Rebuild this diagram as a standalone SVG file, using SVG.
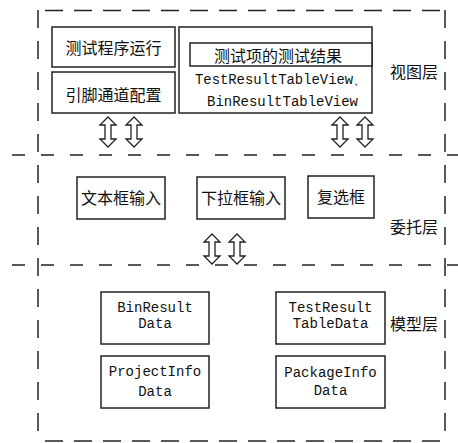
<svg xmlns="http://www.w3.org/2000/svg" width="458" height="443" viewBox="0 0 458 443">
<style>
.bx{fill:#fff;stroke:#222;stroke-width:1.5}
.cn{font-family:"Noto Sans CJK SC","Noto Sans",sans-serif;font-size:16px;fill:#111;text-anchor:middle;dominant-baseline:central}
.ln{font-family:"Liberation Mono",monospace;font-size:14px;fill:#111;text-anchor:middle;dominant-baseline:central}
.hd{fill:none;stroke:#222;stroke-width:1.5;stroke-dasharray:18 11}
.sep{fill:none;stroke:#222;stroke-width:1.5;stroke-dasharray:13 16}
.vd{fill:none;stroke:#222;stroke-width:1.5;stroke-dasharray:18 13}
.ar{fill:#fff;stroke:#222;stroke-width:1.3;stroke-linejoin:miter}
</style>
<defs>
<path id="dar" d="M0,-15 L8,-7 L3,-7 L3,7 L8,7 L0,15 L-8,7 L-3,7 L-3,-7 L-8,-7 Z"/>
</defs>
<rect width="458" height="443" fill="#fff"/>
<g id="frame">
<line class="hd" x1="45" y1="10.5" x2="445" y2="10.5"/>
<line class="vd" x1="38" y1="10" x2="38" y2="441"/>
<line class="vd" x1="445" y1="10" x2="445" y2="441"/>
<line class="sep" x1="12" y1="155" x2="458" y2="155"/>
<line class="sep" x1="12" y1="265" x2="458" y2="265"/>
<line class="hd" x1="45" y1="441" x2="445" y2="441"/>
</g>
<g id="view-layer">
<text class="cn" x="414" y="71">视图层</text>
</g>
<g id="node-run">
<rect class="bx" x="52" y="27" width="123" height="40"/>
<text class="cn" x="113.5" y="47">测试程序运行</text>
</g>
<g id="node-pin">
<rect class="bx" x="52" y="72" width="123" height="41"/>
<text class="cn" x="113.5" y="94">引脚通道配置</text>
</g>
<g id="node-result">
<rect class="bx" x="179" y="27" width="193" height="86"/>
<rect class="bx" x="190" y="43" width="182" height="23"/>
<text class="cn" x="278" y="55">测试项的测试结果</text>
<text class="ln" x="281" y="80" textLength="172" lengthAdjust="spacingAndGlyphs">TestResultTableView、</text>
<text class="ln" x="282.5" y="102" textLength="151" lengthAdjust="spacingAndGlyphs">BinResultTableView</text>
</g>
<g id="delegate-layer">
<text class="cn" x="414" y="226">委托层</text>
</g>
<g id="node-text">
<rect class="bx" x="77" y="177" width="88" height="42"/>
<text class="cn" x="121" y="197">文本框输入</text>
</g>
<g id="node-combo">
<rect class="bx" x="197" y="177" width="88" height="42"/>
<text class="cn" x="241" y="197">下拉框输入</text>
</g>
<g id="node-check">
<rect class="bx" x="308" y="176" width="66" height="42"/>
<text class="cn" x="341" y="196">复选框</text>
</g>
<g id="model-layer">
<text class="cn" x="414" y="323">模型层</text>
</g>
<g id="node-bin">
<rect class="bx" x="101" y="292" width="108" height="52"/>
<text class="ln" x="155" y="308">BinResult</text>
<text class="ln" x="155" y="324">Data</text>
</g>
<g id="node-testresult">
<rect class="bx" x="276" y="292" width="109" height="52"/>
<text class="ln" x="330.5" y="308">TestResult</text>
<text class="ln" x="330.5" y="324">TableData</text>
</g>
<g id="node-project">
<rect class="bx" x="101" y="356" width="108" height="52"/>
<text class="ln" x="155" y="372">ProjectInfo</text>
<text class="ln" x="155" y="392">Data</text>
</g>
<g id="node-package">
<rect class="bx" x="276" y="356" width="109" height="52"/>
<text class="ln" x="330.5" y="373">PackageInfo</text>
<text class="ln" x="330.5" y="391">Data</text>
</g>
<g id="connectors">
<use href="#dar" class="ar" x="108" y="132"/>
<use href="#dar" class="ar" x="134" y="132"/>
<use href="#dar" class="ar" x="340" y="132"/>
<use href="#dar" class="ar" x="365" y="132"/>
<use href="#dar" class="ar" x="212" y="249"/>
<use href="#dar" class="ar" x="237" y="249"/>
</g>
</svg>
